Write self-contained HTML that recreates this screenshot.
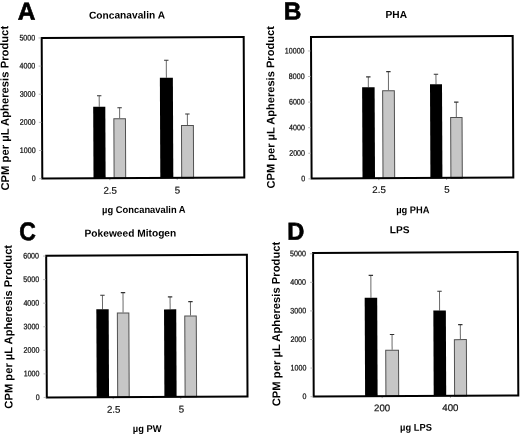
<!DOCTYPE html>
<html><head><meta charset="utf-8"><style>
html,body{margin:0;padding:0;background:#fff;}
body{width:520px;height:435px;overflow:hidden;}
svg{display:block;will-change:transform;}
text{font-family:"Liberation Sans",sans-serif;}
.b{font-weight:bold;}
</style></head><body>
<svg width="520" height="435" viewBox="0 0 520 435">
<rect width="520" height="435" fill="#fff"/>

<g transform="rotate(-0.25,143,107.75)">
<line x1="99.25" y1="95.5" x2="99.25" y2="106.5" stroke="#6a6a6a" stroke-width="1"/>
<line x1="97.05" y1="95.5" x2="101.45" y2="95.5" stroke="#333" stroke-width="1.1"/>
<rect x="93.2" y="106.5" width="12.1" height="71.7" fill="#000"/>
<line x1="119.6" y1="107.7" x2="119.6" y2="118.2" stroke="#6a6a6a" stroke-width="1"/>
<line x1="117.4" y1="107.7" x2="121.8" y2="107.7" stroke="#333" stroke-width="1.1"/>
<rect x="113.8" y="118.7" width="11.6" height="59.5" fill="#c6c6c6" stroke="#505050" stroke-width="1"/>
<line x1="166.5" y1="60.4" x2="166.5" y2="77.8" stroke="#6a6a6a" stroke-width="1"/>
<line x1="164.3" y1="60.4" x2="168.7" y2="60.4" stroke="#333" stroke-width="1.1"/>
<rect x="160" y="77.8" width="13" height="100.4" fill="#000"/>
<line x1="187.35" y1="114.25" x2="187.35" y2="125.1" stroke="#6a6a6a" stroke-width="1"/>
<line x1="185.15" y1="114.25" x2="189.55" y2="114.25" stroke="#333" stroke-width="1.1"/>
<rect x="181.4" y="125.6" width="11.9" height="52.6" fill="#c6c6c6" stroke="#505050" stroke-width="1"/>
<line x1="109.55" y1="178" x2="109.55" y2="180" stroke="#999" stroke-width="0.9"/>
<line x1="176.9" y1="178" x2="176.9" y2="180" stroke="#999" stroke-width="0.9"/>
<rect x="42" y="37.5" width="202" height="140.5" fill="none" stroke="#000" stroke-width="2"/>
<text transform="translate(35.5,180.6) scale(0.89,1)" font-size="8" text-anchor="end" fill="#111" stroke="#111" stroke-width="0.25">0</text>
<line x1="38.8" y1="178.2" x2="41.5" y2="178.2" stroke="#aaa" stroke-width="0.8"/>
<text transform="translate(35.5,152.46) scale(0.89,1)" font-size="8" text-anchor="end" fill="#111" stroke="#111" stroke-width="0.25">1000</text>
<line x1="38.8" y1="150.06" x2="41.5" y2="150.06" stroke="#aaa" stroke-width="0.8"/>
<text transform="translate(35.5,124.32) scale(0.89,1)" font-size="8" text-anchor="end" fill="#111" stroke="#111" stroke-width="0.25">2000</text>
<line x1="38.8" y1="121.92" x2="41.5" y2="121.92" stroke="#aaa" stroke-width="0.8"/>
<text transform="translate(35.5,96.18) scale(0.89,1)" font-size="8" text-anchor="end" fill="#111" stroke="#111" stroke-width="0.25">3000</text>
<line x1="38.8" y1="93.78" x2="41.5" y2="93.78" stroke="#aaa" stroke-width="0.8"/>
<text transform="translate(35.5,68.04) scale(0.89,1)" font-size="8" text-anchor="end" fill="#111" stroke="#111" stroke-width="0.25">4000</text>
<line x1="38.8" y1="65.64" x2="41.5" y2="65.64" stroke="#aaa" stroke-width="0.8"/>
<text transform="translate(35.5,39.9) scale(0.89,1)" font-size="8" text-anchor="end" fill="#111" stroke="#111" stroke-width="0.25">5000</text>
<line x1="38.8" y1="37.5" x2="41.5" y2="37.5" stroke="#aaa" stroke-width="0.8"/>
<text x="109.8" y="193.7" font-size="9.7" text-anchor="middle" fill="#111" stroke="#111" stroke-width="0.2">2.5</text>
<text x="177.1" y="193.7" font-size="9.7" text-anchor="middle" fill="#111" stroke="#111" stroke-width="0.2">5</text>
<text class="b" transform="translate(18.2,19.2) scale(1,1)" font-size="24.5" fill="#000" stroke="#000" stroke-width="0.6">A</text>
<text class="b" x="127.4" y="18.5" font-size="10.2" text-anchor="middle" fill="#000">Concanavalin A</text>
<text class="b" transform="translate(143.4,213) scale(0.955,1)" font-size="9.8" text-anchor="middle" fill="#000">µg Concanavalin A</text>
<text class="b" transform="translate(8.6,107.6) rotate(-90)" x="0" y="0" font-size="11.25" text-anchor="middle" fill="#000">CPM per µL Apheresis Product</text>
</g>
<g transform="rotate(-0.25,412.15,107.25)">
<line x1="368.45" y1="76.7" x2="368.45" y2="87.1" stroke="#6a6a6a" stroke-width="1"/>
<line x1="366.25" y1="76.7" x2="370.65" y2="76.7" stroke="#333" stroke-width="1.1"/>
<rect x="362.2" y="87.1" width="12.5" height="91.3" fill="#000"/>
<line x1="388.55" y1="71.5" x2="388.55" y2="90.2" stroke="#6a6a6a" stroke-width="1"/>
<line x1="386.35" y1="71.5" x2="390.75" y2="71.5" stroke="#333" stroke-width="1.1"/>
<rect x="382.7" y="90.7" width="11.7" height="87.7" fill="#c6c6c6" stroke="#505050" stroke-width="1"/>
<line x1="436.1" y1="74.4" x2="436.1" y2="84.3" stroke="#6a6a6a" stroke-width="1"/>
<line x1="433.9" y1="74.4" x2="438.3" y2="74.4" stroke="#333" stroke-width="1.1"/>
<rect x="430.1" y="84.3" width="12" height="94.1" fill="#000"/>
<line x1="456.3" y1="102.3" x2="456.3" y2="117.2" stroke="#6a6a6a" stroke-width="1"/>
<line x1="454.1" y1="102.3" x2="458.5" y2="102.3" stroke="#333" stroke-width="1.1"/>
<rect x="450.6" y="117.7" width="11.4" height="60.7" fill="#c6c6c6" stroke="#505050" stroke-width="1"/>
<line x1="378.55" y1="178" x2="378.55" y2="180" stroke="#999" stroke-width="0.9"/>
<line x1="446.3" y1="178" x2="446.3" y2="180" stroke="#999" stroke-width="0.9"/>
<rect x="311.3" y="36.5" width="201.7" height="141.5" fill="none" stroke="#000" stroke-width="2"/>
<text transform="translate(304.8,180.8) scale(0.89,1)" font-size="8" text-anchor="end" fill="#111" stroke="#111" stroke-width="0.25">0</text>
<line x1="308.1" y1="178.4" x2="310.8" y2="178.4" stroke="#aaa" stroke-width="0.8"/>
<text transform="translate(304.8,155.22) scale(0.89,1)" font-size="8" text-anchor="end" fill="#111" stroke="#111" stroke-width="0.25">2000</text>
<line x1="308.1" y1="152.82" x2="310.8" y2="152.82" stroke="#aaa" stroke-width="0.8"/>
<text transform="translate(304.8,129.64) scale(0.89,1)" font-size="8" text-anchor="end" fill="#111" stroke="#111" stroke-width="0.25">4000</text>
<line x1="308.1" y1="127.24" x2="310.8" y2="127.24" stroke="#aaa" stroke-width="0.8"/>
<text transform="translate(304.8,104.06) scale(0.89,1)" font-size="8" text-anchor="end" fill="#111" stroke="#111" stroke-width="0.25">6000</text>
<line x1="308.1" y1="101.66" x2="310.8" y2="101.66" stroke="#aaa" stroke-width="0.8"/>
<text transform="translate(304.8,78.48) scale(0.89,1)" font-size="8" text-anchor="end" fill="#111" stroke="#111" stroke-width="0.25">8000</text>
<line x1="308.1" y1="76.08" x2="310.8" y2="76.08" stroke="#aaa" stroke-width="0.8"/>
<text transform="translate(304.8,52.9) scale(0.89,1)" font-size="8" text-anchor="end" fill="#111" stroke="#111" stroke-width="0.25">10000</text>
<line x1="308.1" y1="50.5" x2="310.8" y2="50.5" stroke="#aaa" stroke-width="0.8"/>
<text x="378.7" y="192.9" font-size="9.7" text-anchor="middle" fill="#111" stroke="#111" stroke-width="0.2">2.5</text>
<text x="446.5" y="192.9" font-size="9.7" text-anchor="middle" fill="#111" stroke="#111" stroke-width="0.2">5</text>
<text class="b" transform="translate(284.1,18.9) scale(1,1)" font-size="24.5" fill="#000" stroke="#000" stroke-width="0.6">B</text>
<text class="b" x="396.7" y="17.9" font-size="10.2" text-anchor="middle" fill="#000">PHA</text>
<text class="b" transform="translate(412.4,213.3) scale(0.955,1)" font-size="9.8" text-anchor="middle" fill="#000">µg PHA</text>
<text class="b" transform="translate(274.3,106.75) rotate(-90)" x="0" y="0" font-size="11.1" text-anchor="middle" fill="#000">CPM per µL Apheresis Product</text>
</g>
<g transform="rotate(-0.25,146.85,326.15)">
<line x1="102.58" y1="295.1" x2="102.58" y2="309" stroke="#6a6a6a" stroke-width="1"/>
<line x1="100.38" y1="295.1" x2="104.78" y2="295.1" stroke="#333" stroke-width="1.1"/>
<rect x="96.4" y="309" width="12.35" height="88" fill="#000"/>
<line x1="123.15" y1="292.5" x2="123.15" y2="312.4" stroke="#6a6a6a" stroke-width="1"/>
<line x1="120.95" y1="292.5" x2="125.35" y2="292.5" stroke="#333" stroke-width="1.1"/>
<rect x="117.4" y="312.9" width="11.5" height="84.1" fill="#c6c6c6" stroke="#505050" stroke-width="1"/>
<line x1="170.2" y1="297" x2="170.2" y2="309.5" stroke="#6a6a6a" stroke-width="1"/>
<line x1="168" y1="297" x2="172.4" y2="297" stroke="#333" stroke-width="1.1"/>
<rect x="164.1" y="309.5" width="12.2" height="87.5" fill="#000"/>
<line x1="190.55" y1="301.8" x2="190.55" y2="315.6" stroke="#6a6a6a" stroke-width="1"/>
<line x1="188.35" y1="301.8" x2="192.75" y2="301.8" stroke="#333" stroke-width="1.1"/>
<rect x="184.8" y="316.1" width="11.5" height="80.9" fill="#c6c6c6" stroke="#505050" stroke-width="1"/>
<line x1="112.9" y1="397" x2="112.9" y2="399" stroke="#999" stroke-width="0.9"/>
<line x1="180.45" y1="397" x2="180.45" y2="399" stroke="#999" stroke-width="0.9"/>
<rect x="46.5" y="255.3" width="200.7" height="141.7" fill="none" stroke="#000" stroke-width="2"/>
<text transform="translate(39.3,399.4) scale(0.89,1)" font-size="8" text-anchor="end" fill="#111" stroke="#111" stroke-width="0.25">0</text>
<line x1="43.3" y1="397" x2="46" y2="397" stroke="#aaa" stroke-width="0.8"/>
<text transform="translate(39.3,375.83) scale(0.89,1)" font-size="8" text-anchor="end" fill="#111" stroke="#111" stroke-width="0.25">1000</text>
<line x1="43.3" y1="373.43" x2="46" y2="373.43" stroke="#aaa" stroke-width="0.8"/>
<text transform="translate(39.3,352.27) scale(0.89,1)" font-size="8" text-anchor="end" fill="#111" stroke="#111" stroke-width="0.25">2000</text>
<line x1="43.3" y1="349.87" x2="46" y2="349.87" stroke="#aaa" stroke-width="0.8"/>
<text transform="translate(39.3,328.7) scale(0.89,1)" font-size="8" text-anchor="end" fill="#111" stroke="#111" stroke-width="0.25">3000</text>
<line x1="43.3" y1="326.3" x2="46" y2="326.3" stroke="#aaa" stroke-width="0.8"/>
<text transform="translate(39.3,305.13) scale(0.89,1)" font-size="8" text-anchor="end" fill="#111" stroke="#111" stroke-width="0.25">4000</text>
<line x1="43.3" y1="302.73" x2="46" y2="302.73" stroke="#aaa" stroke-width="0.8"/>
<text transform="translate(39.3,281.57) scale(0.89,1)" font-size="8" text-anchor="end" fill="#111" stroke="#111" stroke-width="0.25">5000</text>
<line x1="43.3" y1="279.17" x2="46" y2="279.17" stroke="#aaa" stroke-width="0.8"/>
<text transform="translate(39.3,258) scale(0.89,1)" font-size="8" text-anchor="end" fill="#111" stroke="#111" stroke-width="0.25">6000</text>
<line x1="43.3" y1="255.6" x2="46" y2="255.6" stroke="#aaa" stroke-width="0.8"/>
<text x="113.3" y="412.7" font-size="9.7" text-anchor="middle" fill="#111" stroke="#111" stroke-width="0.2">2.5</text>
<text x="181" y="412.7" font-size="9.7" text-anchor="middle" fill="#111" stroke="#111" stroke-width="0.2">5</text>
<text class="b" transform="translate(19.7,239.6) scale(0.94,1.05)" font-size="24.5" fill="#000" stroke="#000" stroke-width="0.6">C</text>
<text class="b" x="130.8" y="236.6" font-size="10.2" text-anchor="middle" fill="#000">Pokeweed Mitogen</text>
<text class="b" transform="translate(146.7,431.9) scale(0.955,1)" font-size="9.8" text-anchor="middle" fill="#000">µg PW</text>
<text class="b" transform="translate(12.1,326.2) rotate(-90)" x="0" y="0" font-size="11.2" text-anchor="middle" fill="#000">CPM per µL Apheresis Product</text>
</g>
<g transform="rotate(-0.25,415.7,324.25)">
<line x1="371.05" y1="275.2" x2="371.05" y2="297.6" stroke="#6a6a6a" stroke-width="1"/>
<line x1="368.85" y1="275.2" x2="373.25" y2="275.2" stroke="#333" stroke-width="1.1"/>
<rect x="364.8" y="297.6" width="12.5" height="98.6" fill="#000"/>
<line x1="392" y1="334.4" x2="392" y2="349.7" stroke="#6a6a6a" stroke-width="1"/>
<line x1="389.8" y1="334.4" x2="394.2" y2="334.4" stroke="#333" stroke-width="1.1"/>
<rect x="385.6" y="350.2" width="12.8" height="46" fill="#c6c6c6" stroke="#505050" stroke-width="1"/>
<line x1="439.65" y1="291.3" x2="439.65" y2="310.6" stroke="#6a6a6a" stroke-width="1"/>
<line x1="437.45" y1="291.3" x2="441.85" y2="291.3" stroke="#333" stroke-width="1.1"/>
<rect x="433.4" y="310.6" width="12.5" height="85.6" fill="#000"/>
<line x1="460.3" y1="324.8" x2="460.3" y2="339.3" stroke="#6a6a6a" stroke-width="1"/>
<line x1="458.1" y1="324.8" x2="462.5" y2="324.8" stroke="#333" stroke-width="1.1"/>
<rect x="454.3" y="339.8" width="12" height="56.4" fill="#c6c6c6" stroke="#505050" stroke-width="1"/>
<line x1="381.85" y1="396" x2="381.85" y2="398" stroke="#999" stroke-width="0.9"/>
<line x1="450.1" y1="396" x2="450.1" y2="398" stroke="#999" stroke-width="0.9"/>
<rect x="313.4" y="252.5" width="204.6" height="143.5" fill="none" stroke="#000" stroke-width="2"/>
<text transform="translate(306.2,398.6) scale(0.89,1)" font-size="8" text-anchor="end" fill="#111" stroke="#111" stroke-width="0.25">0</text>
<line x1="310.2" y1="396.2" x2="312.9" y2="396.2" stroke="#aaa" stroke-width="0.8"/>
<text transform="translate(306.2,370.02) scale(0.89,1)" font-size="8" text-anchor="end" fill="#111" stroke="#111" stroke-width="0.25">1000</text>
<line x1="310.2" y1="367.62" x2="312.9" y2="367.62" stroke="#aaa" stroke-width="0.8"/>
<text transform="translate(306.2,341.44) scale(0.89,1)" font-size="8" text-anchor="end" fill="#111" stroke="#111" stroke-width="0.25">2000</text>
<line x1="310.2" y1="339.04" x2="312.9" y2="339.04" stroke="#aaa" stroke-width="0.8"/>
<text transform="translate(306.2,312.86) scale(0.89,1)" font-size="8" text-anchor="end" fill="#111" stroke="#111" stroke-width="0.25">3000</text>
<line x1="310.2" y1="310.46" x2="312.9" y2="310.46" stroke="#aaa" stroke-width="0.8"/>
<text transform="translate(306.2,284.28) scale(0.89,1)" font-size="8" text-anchor="end" fill="#111" stroke="#111" stroke-width="0.25">4000</text>
<line x1="310.2" y1="281.88" x2="312.9" y2="281.88" stroke="#aaa" stroke-width="0.8"/>
<text transform="translate(306.2,255.7) scale(0.89,1)" font-size="8" text-anchor="end" fill="#111" stroke="#111" stroke-width="0.25">5000</text>
<line x1="310.2" y1="253.3" x2="312.9" y2="253.3" stroke="#aaa" stroke-width="0.8"/>
<text x="381.8" y="411.2" font-size="9.7" text-anchor="middle" fill="#111" stroke="#111" stroke-width="0.2">200</text>
<text x="450" y="411.2" font-size="9.7" text-anchor="middle" fill="#111" stroke="#111" stroke-width="0.2">400</text>
<text class="b" transform="translate(287.6,239.1) scale(0.97,1.0)" font-size="24.5" fill="#000" stroke="#000" stroke-width="0.6">D</text>
<text class="b" x="400" y="233.2" font-size="10.2" text-anchor="middle" fill="#000">LPS</text>
<text class="b" transform="translate(415.6,430.8) scale(0.955,1)" font-size="9.8" text-anchor="middle" fill="#000">µg LPS</text>
<text class="b" transform="translate(280,323.4) rotate(-90)" x="0" y="0" font-size="11.25" text-anchor="middle" fill="#000">CPM per µL Apheresis Product</text>
</g>
</svg>
</body></html>
